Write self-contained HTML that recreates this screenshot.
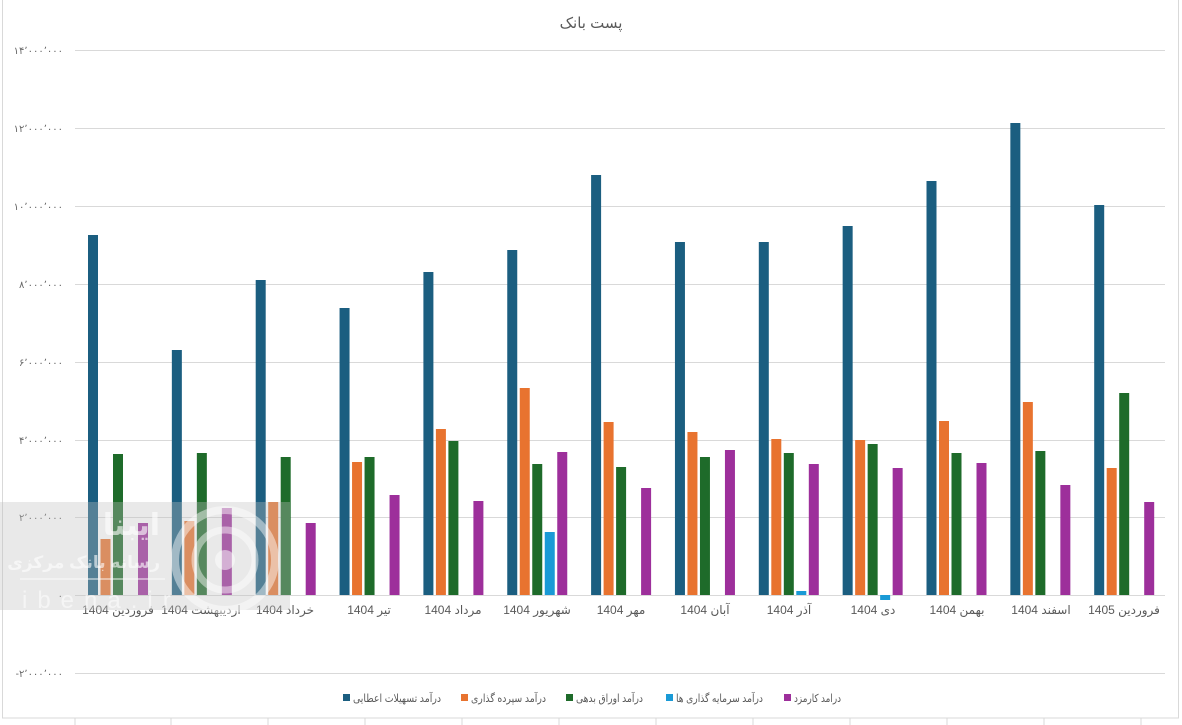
<!DOCTYPE html>
<html><head><meta charset="utf-8"><style>
html,body{margin:0;padding:0;background:#fff;}
svg{display:block;font-family:"Liberation Sans","DejaVu Sans",sans-serif;}
</style></head><body>
<svg width="1182" height="725" viewBox="0 0 1182 725" xmlns="http://www.w3.org/2000/svg">
<rect x="0" y="0" width="1182" height="725" fill="#fff"/>
<rect x="2.5" y="-2" width="1176" height="720" fill="none" stroke="#d9d9d9"/>
<g stroke="#d9d9d9" stroke-width="1">
<line x1="75" y1="50.5" x2="1165" y2="50.5"/>
<line x1="75" y1="128.5" x2="1165" y2="128.5"/>
<line x1="75" y1="206.5" x2="1165" y2="206.5"/>
<line x1="75" y1="284.5" x2="1165" y2="284.5"/>
<line x1="75" y1="362.5" x2="1165" y2="362.5"/>
<line x1="75" y1="440.5" x2="1165" y2="440.5"/>
<line x1="75" y1="517.5" x2="1165" y2="517.5"/>
<line x1="75" y1="595.5" x2="1165" y2="595.5"/>
<line x1="75" y1="673.5" x2="1165" y2="673.5"/>
<line x1="75" y1="718" x2="75" y2="725"/><line x1="171" y1="718" x2="171" y2="725"/><line x1="268" y1="718" x2="268" y2="725"/><line x1="365" y1="718" x2="365" y2="725"/><line x1="462" y1="718" x2="462" y2="725"/><line x1="559" y1="718" x2="559" y2="725"/><line x1="656" y1="718" x2="656" y2="725"/><line x1="753" y1="718" x2="753" y2="725"/><line x1="850" y1="718" x2="850" y2="725"/><line x1="947" y1="718" x2="947" y2="725"/><line x1="1044" y1="718" x2="1044" y2="725"/><line x1="1141" y1="718" x2="1141" y2="725"/>
</g>
<g font-size="10" fill="#666" text-anchor="end">
<text x="63" y="54">۱۴٬۰۰۰٬۰۰۰</text>
<text x="63" y="132">۱۲٬۰۰۰٬۰۰۰</text>
<text x="63" y="210">۱۰٬۰۰۰٬۰۰۰</text>
<text x="63" y="288">۸٬۰۰۰٬۰۰۰</text>
<text x="63" y="366">۶٬۰۰۰٬۰۰۰</text>
<text x="63" y="444">۴٬۰۰۰٬۰۰۰</text>
<text x="63" y="521">۲٬۰۰۰٬۰۰۰</text>
<text x="63" y="599">۰</text>
<text x="63" y="677">&#x200E;-&#x200E;۲٬۰۰۰٬۰۰۰</text>
</g>
<text x="591" y="28" font-size="15" fill="#595959" text-anchor="middle">پست بانک</text>
<g id="bars">
<g transform="translate(88,0)"><rect x="0" y="235" width="10" height="360" fill="#1b5e80"/><rect x="12.5" y="539" width="10" height="56" fill="#e8732f"/><rect x="25" y="454" width="10" height="141" fill="#1e6b2a"/><rect x="50" y="523" width="10" height="72" fill="#9d2f9b"/></g>
<g transform="translate(171.85,0)"><rect x="0" y="350" width="10" height="245" fill="#1b5e80"/><rect x="12.5" y="521" width="10" height="74" fill="#e8732f"/><rect x="25" y="453" width="10" height="142" fill="#1e6b2a"/><rect x="50" y="508" width="10" height="87" fill="#9d2f9b"/></g>
<g transform="translate(255.7,0)"><rect x="0" y="280" width="10" height="315" fill="#1b5e80"/><rect x="12.5" y="502" width="10" height="93" fill="#e8732f"/><rect x="25" y="457" width="10" height="138" fill="#1e6b2a"/><rect x="50" y="523" width="10" height="72" fill="#9d2f9b"/></g>
<g transform="translate(339.55,0)"><rect x="0" y="308" width="10" height="287" fill="#1b5e80"/><rect x="12.5" y="462" width="10" height="133" fill="#e8732f"/><rect x="25" y="457" width="10" height="138" fill="#1e6b2a"/><rect x="50" y="495" width="10" height="100" fill="#9d2f9b"/></g>
<g transform="translate(423.4,0)"><rect x="0" y="272" width="10" height="323" fill="#1b5e80"/><rect x="12.5" y="429" width="10" height="166" fill="#e8732f"/><rect x="25" y="441" width="10" height="154" fill="#1e6b2a"/><rect x="50" y="501" width="10" height="94" fill="#9d2f9b"/></g>
<g transform="translate(507.25,0)"><rect x="0" y="250" width="10" height="345" fill="#1b5e80"/><rect x="12.5" y="388" width="10" height="207" fill="#e8732f"/><rect x="25" y="464" width="10" height="131" fill="#1e6b2a"/><rect x="37.5" y="532" width="10" height="63" fill="#1a9ad6"/><rect x="50" y="452" width="10" height="143" fill="#9d2f9b"/></g>
<g transform="translate(591.1,0)"><rect x="0" y="175" width="10" height="420" fill="#1b5e80"/><rect x="12.5" y="422" width="10" height="173" fill="#e8732f"/><rect x="25" y="467" width="10" height="128" fill="#1e6b2a"/><rect x="50" y="488" width="10" height="107" fill="#9d2f9b"/></g>
<g transform="translate(674.95,0)"><rect x="0" y="242" width="10" height="353" fill="#1b5e80"/><rect x="12.5" y="432" width="10" height="163" fill="#e8732f"/><rect x="25" y="457" width="10" height="138" fill="#1e6b2a"/><rect x="50" y="450" width="10" height="145" fill="#9d2f9b"/></g>
<g transform="translate(758.8,0)"><rect x="0" y="242" width="10" height="353" fill="#1b5e80"/><rect x="12.5" y="439" width="10" height="156" fill="#e8732f"/><rect x="25" y="453" width="10" height="142" fill="#1e6b2a"/><rect x="37.5" y="591" width="10" height="4" fill="#1a9ad6"/><rect x="50" y="464" width="10" height="131" fill="#9d2f9b"/></g>
<g transform="translate(842.65,0)"><rect x="0" y="226" width="10" height="369" fill="#1b5e80"/><rect x="12.5" y="440" width="10" height="155" fill="#e8732f"/><rect x="25" y="444" width="10" height="151" fill="#1e6b2a"/><rect x="37.5" y="595" width="10" height="5" fill="#1a9ad6"/><rect x="50" y="468" width="10" height="127" fill="#9d2f9b"/></g>
<g transform="translate(926.5,0)"><rect x="0" y="181" width="10" height="414" fill="#1b5e80"/><rect x="12.5" y="421" width="10" height="174" fill="#e8732f"/><rect x="25" y="453" width="10" height="142" fill="#1e6b2a"/><rect x="50" y="463" width="10" height="132" fill="#9d2f9b"/></g>
<g transform="translate(1010.35,0)"><rect x="0" y="123" width="10" height="472" fill="#1b5e80"/><rect x="12.5" y="402" width="10" height="193" fill="#e8732f"/><rect x="25" y="451" width="10" height="144" fill="#1e6b2a"/><rect x="50" y="485" width="10" height="110" fill="#9d2f9b"/></g>
<g transform="translate(1094.2,0)"><rect x="0" y="205" width="10" height="390" fill="#1b5e80"/><rect x="12.5" y="468" width="10" height="127" fill="#e8732f"/><rect x="25" y="393" width="10" height="202" fill="#1e6b2a"/><rect x="50" y="502" width="10" height="93" fill="#9d2f9b"/></g>
</g>
<g font-size="12" fill="#595959" text-anchor="middle" direction="rtl">
<text x="118" y="614">فروردین 1404</text>
<text x="201" y="614">اردیبهشت 1404</text>
<text x="285" y="614">خرداد 1404</text>
<text x="369" y="614">تیر 1404</text>
<text x="453" y="614">مرداد 1404</text>
<text x="537" y="614">شهریور 1404</text>
<text x="621" y="614">مهر 1404</text>
<text x="705" y="614">آبان 1404</text>
<text x="789" y="614">آذر 1404</text>
<text x="873" y="614">دی 1404</text>
<text x="957" y="614">بهمن 1404</text>
<text x="1041" y="614">اسفند 1404</text>
<text x="1124" y="614">فروردین 1405</text>
</g>
<g font-size="11" fill="#595959">
<rect x="343" y="694" width="7" height="7" fill="#1b5e80"/><text x="353" y="702" textLength="88" lengthAdjust="spacingAndGlyphs">درآمد تسهیلات اعطایی</text>
<rect x="461" y="694" width="7" height="7" fill="#e8732f"/><text x="471" y="702" textLength="75" lengthAdjust="spacingAndGlyphs">درآمد سپرده گذاری</text>
<rect x="566" y="694" width="7" height="7" fill="#1e6b2a"/><text x="576" y="702" textLength="67" lengthAdjust="spacingAndGlyphs">درآمد اوراق بدهی</text>
<rect x="666" y="694" width="7" height="7" fill="#1a9ad6"/><text x="676" y="702" textLength="87" lengthAdjust="spacingAndGlyphs">درآمد سرمایه گذاری ها</text>
<rect x="784" y="694" width="7" height="7" fill="#9d2f9b"/><text x="794" y="702" textLength="47" lengthAdjust="spacingAndGlyphs">درامد کارمزد</text>
</g>
<!-- watermark -->
<rect x="0" y="502" width="290" height="108" fill="#bfbfbf" opacity="0.35"/>
<circle cx="225" cy="560" r="50" fill="none" stroke="#fff" stroke-width="8" opacity="0.45"/>
<circle cx="225" cy="560" r="30" fill="none" stroke="#fff" stroke-width="7" opacity="0.45"/>
<circle cx="225" cy="560" r="10" fill="#fff" opacity="0.5"/>
<text x="160" y="535" font-size="30" font-weight="bold" fill="#fff" opacity="0.6" text-anchor="end">ایبنا</text>
<text x="160" y="568" font-size="17" font-weight="bold" fill="#fff" opacity="0.6" text-anchor="end">رسانه بانک مرکزی</text>
<line x1="20" y1="579" x2="165" y2="579" stroke="#fff" stroke-width="1.5" opacity="0.6"/>
<text x="22" y="608" font-size="24" fill="#fff" opacity="0.55" letter-spacing="10">ibena.ir</text>
</svg>
</body></html>
